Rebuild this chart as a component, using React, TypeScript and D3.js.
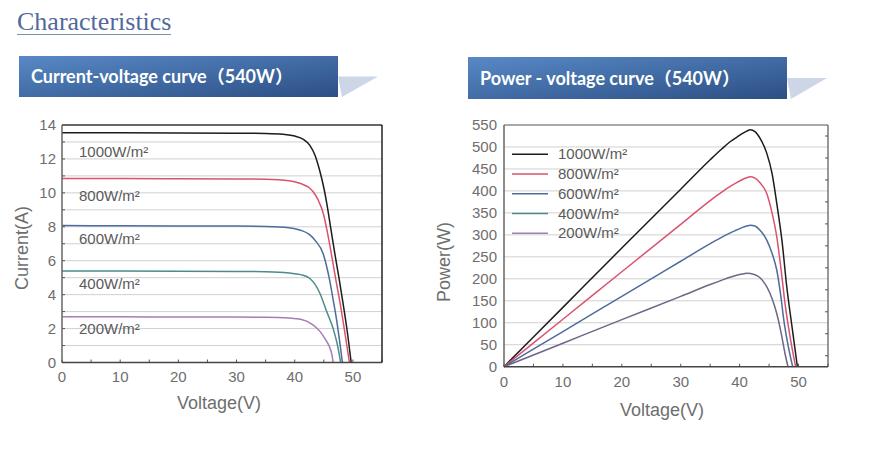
import React from "react";
import * as d3 from "d3";

// ---------- data ----------
const irradianceLabels = ["1000W/m²", "800W/m²", "600W/m²", "400W/m²", "200W/m²"];
const seriesColors = ["#1c1c1c", "#d9536e", "#4d6c9c", "#4d8a8c", "#a77db3"];
const powerColors = ["#1c1c1c", "#d9536e", "#4d6c9c", "#6e6688"];

const ivV1000 = [0, 10, 20, 30, 35, 38, 40, 41.5, 42.6, 43.5, 44.3, 45, 45.5, 46.2, 46.9, 47.6, 48.3, 49, 49.7];
const ivI1000 = [13.55, 13.54, 13.53, 13.52, 13.5, 13.45, 13.35, 13.15, 12.8, 12.2, 11.3, 10.3, 9.4, 7.9, 6.4, 5.0, 3.5, 1.9, 0];
const ivV800 = [0, 10, 20, 30, 35, 39, 41, 42.5, 43.2, 44, 44.9, 45.6, 46.3, 47, 47.8, 48.6, 49.4];
const ivI800 = [10.85, 10.84, 10.83, 10.82, 10.8, 10.72, 10.55, 10.3, 10.05, 9.6, 8.8, 7.7, 6.4, 5.0, 3.5, 1.8, 0];
const ivV600 = [0, 10, 20, 30, 35, 39, 41, 42.5, 43.5, 44.9, 46, 46.6, 47.2, 47.7, 48.2];
const ivI600 = [8.07, 8.06, 8.05, 8.04, 8.02, 7.95, 7.8, 7.55, 7.2, 6.4, 4.85, 3.7, 2.5, 1.3, 0];
const ivV400 = [0, 10, 20, 30, 35, 39, 41, 42.6, 44.3, 45.5, 46.6, 47.3, 47.9];
const ivI400 = [5.4, 5.39, 5.38, 5.37, 5.35, 5.28, 5.18, 4.95, 4.1, 3.0, 2.0, 1.1, 0];
const ivV200 = [0, 10, 20, 30, 35, 39, 41, 43, 44.3, 45.3, 46, 46.4, 46.6];
const ivI200 = [2.69, 2.69, 2.68, 2.68, 2.67, 2.62, 2.55, 2.25, 1.85, 1.35, 0.9, 0.45, 0];

const pvV1000 = [0, 10, 20, 30, 35, 37, 38.5, 39.5, 40.5, 41.2, 41.8, 42.6, 43.5, 44.6, 45.5, 46.3, 47.2, 48, 48.9, 49.8];
const pvP1000 = [0, 135, 270, 404, 471, 496, 513, 522, 531, 536, 539, 535, 519, 486, 440, 372, 285, 182, 90, 0];
const pvV800 = [0, 10, 20, 30, 35, 36, 38, 39.5, 40.5, 41.2, 41.8, 42.6, 43.5, 44.6, 45.5, 46.3, 47.0, 47.7, 48.6, 49.5];
const pvP800 = [0, 108, 216, 324, 378, 388, 407, 419, 426, 430, 432, 429, 418, 394, 350, 296, 225, 144, 65, 0];
const pvV600 = [0, 10, 20, 30, 35, 37, 38.5, 39.5, 40.5, 41.2, 41.8, 42.6, 43.5, 44.6, 45.5, 46.3, 47, 47.5, 48.2, 49];
const pvP600 = [0, 80, 160, 240, 280, 295, 305, 311, 317, 320, 322, 320, 310, 288, 258, 220, 160, 106, 50, 0];
const pvV400 = [0, 10, 20, 30, 35, 37, 38.5, 39.5, 40.5, 41.2, 42.5, 43.5, 44.6, 45.5, 46.3, 47, 47.7, 48.2];
const pvP400 = [0, 53.5, 107, 160, 187, 197, 204, 208, 211, 212.5, 210, 202, 182, 155, 121, 80, 30, 0];

const ivSeries = [
  [ivV1000, ivI1000],
  [ivV800, ivI800],
  [ivV600, ivI600],
  [ivV400, ivI400],
  [ivV200, ivI200],
];
const pvSeries = [
  [pvV1000, pvP1000],
  [pvV800, pvP800],
  [pvV600, pvP600],
  [pvV400, pvP400],
];

const xTicks = [0, 10, 20, 30, 40, 50];
const ivYTicks = [0, 2, 4, 6, 8, 10, 12, 14];
const pvYTicks = [0, 50, 100, 150, 200, 250, 300, 350, 400, 450, 500, 550];
const ivLabelY = [12.45, 9.85, 7.32, 4.68, 2.03];

const tickFont = "'Liberation Sans', Arial, sans-serif";
const tickColor = "#6e6e6e";
const bannerFont = "Lato, 'Noto Sans CJK SC', sans-serif";

function toPts(v: number[], y: number[]) {
  return v.map((d, i) => [d, y[i]] as [number, number]);
}

function Banner({ x, y, w, h, text, id }: any) {
  return (
    <g>
      <polygon
        points={`${x + w},${y + h * 0.5} ${x + w + 40},${y + h * 0.5} ${x + w + 4},${y + h}`}
        fill="#cdd6e6"
      />
      <rect x={x} y={y} width={w} height={h} fill={`url(#${id})`} />
      <text x={x + 12} y={y + h / 2 + 6.5} fill="#ffffff" fontFamily={bannerFont} fontWeight={700} fontSize={18}>
        {text}
      </text>
    </g>
  );
}

export default function App() {
  // IV chart
  const ix = d3.scaleLinear().domain([0, 55]).range([62, 382]);
  const iy = d3.scaleLinear().domain([0, 14]).range([362.5, 125]);
  // PV chart
  const px = d3.scaleLinear().domain([0, 55]).range([504, 828]);
  const py = d3.scaleLinear().domain([0, 550]).range([366.7, 125]);

  const ivLine = d3
    .line<[number, number]>()
    .x((d) => ix(d[0]))
    .y((d) => iy(d[1]))
    .curve(d3.curveMonotoneX);
  const pvLine = d3
    .line<[number, number]>()
    .x((d) => px(d[0]))
    .y((d) => py(d[1]))
    .curve(d3.curveMonotoneX);

  const ivGrid = d3.range(1, 14, 1);
  const pvGrid = pvYTicks.filter((t) => t > 0 && t < 550);
  const xMinor = d3.range(0, 56, 5);

  return (
    <svg
      width={869}
      height={451}
      style={{ position: "absolute", left: 0, top: 0, background: "#fff" }}
    >
      <defs>
        <linearGradient id="bg1" x1="0" y1="0" x2="1" y2="1">
          <stop offset="0" stopColor="#5889c6" />
          <stop offset="1" stopColor="#2c4f84" />
        </linearGradient>
        <linearGradient id="bg2" x1="0" y1="0" x2="1" y2="1">
          <stop offset="0" stopColor="#5889c6" />
          <stop offset="1" stopColor="#2c4f84" />
        </linearGradient>
      </defs>
      <rect width={869} height={451} fill="#ffffff" />

      {/* title */}
      <text x={17} y={30} fontFamily="'Liberation Serif', 'Times New Roman', serif" fontSize={26} fill="#51699b">
        Characteristics
      </text>
      <line x1={17} x2={171} y1={34.5} y2={34.5} stroke="#7f8fb0" strokeWidth={1.2} />

      <Banner x={19} y={56} w={319} h={41} text="Current-voltage curve（540W）" id="bg1" />
      <Banner x={468} y={57} w={319} h={42} text="Power - voltage curve（540W）" id="bg2" />

      {/* ---------- IV chart ---------- */}
      <g>
        {ivGrid.map((t) => (
          <line key={t} x1={ix(0)} x2={ix(55)} y1={iy(t)} y2={iy(t)} stroke="#d0d0d0" strokeWidth={1} />
        ))}
        {ivGrid.map((t) => (
          <line key={"mt" + t} x1={ix(0)} x2={ix(0) + 3} y1={iy(t)} y2={iy(t)} stroke="#555" strokeWidth={1} />
        ))}
        {xMinor.map((t) => (
          <line key={"xm" + t} x1={ix(t)} x2={ix(t)} y1={iy(0)} y2={iy(0) - 3} stroke="#555" strokeWidth={1} />
        ))}
        {ivSeries.map((s, i) => (
          <path key={i} d={ivLine(toPts(s[0], s[1])) || ""} fill="none" stroke={seriesColors[i]} strokeWidth={1.5} />
        ))}
        <line x1={ix(0)} x2={ix(55)} y1={iy(14)} y2={iy(14)} stroke="#333" strokeWidth={1.5} />
        <line x1={ix(55)} x2={ix(55)} y1={iy(14)} y2={iy(0)} stroke="#222" strokeWidth={1.5} />
        <line x1={ix(0)} x2={ix(0)} y1={iy(14)} y2={iy(0)} stroke="#666" strokeWidth={1.5} />
        <line x1={ix(0)} x2={ix(55)} y1={iy(0)} y2={iy(0)} stroke="#444" strokeWidth={1.5} />
        {ivYTicks.map((t) => (
          <text key={t} x={56} y={iy(t) + 5} textAnchor="end" fontFamily={tickFont} fontSize={15} fill={tickColor}>
            {t}
          </text>
        ))}
        {xTicks.map((t) => (
          <text key={t} x={ix(t)} y={382} textAnchor="middle" fontFamily={tickFont} fontSize={15} fill={tickColor}>
            {t}
          </text>
        ))}
        <text x={219} y={409} textAnchor="middle" fontFamily={tickFont} fontSize={18} fill={tickColor}>
          Voltage(V)
        </text>
        <text
          transform={`translate(28,${248}) rotate(-90)`}
          textAnchor="middle"
          fontFamily={tickFont}
          fontSize={18}
          fill={tickColor}
        >
          Current(A)
        </text>
        {irradianceLabels.map((l, i) => (
          <text key={l} x={79} y={iy(ivLabelY[i]) + 6} fontFamily={tickFont} fontSize={15} fill="#5a5a5a">
            {l}
          </text>
        ))}
      </g>

      {/* ---------- PV chart ---------- */}
      <g>
        {pvGrid.map((t) => (
          <line key={t} x1={px(0)} x2={px(55)} y1={py(t)} y2={py(t)} stroke="#d0d0d0" strokeWidth={1} />
        ))}
        {d3.range(25, 550, 50).map((t) => (
          <line key={"r" + t} x1={px(55)} x2={px(55) - 3} y1={py(t)} y2={py(t)} stroke="#555" strokeWidth={1} />
        ))}
        {xMinor.map((t) => (
          <line key={"xm" + t} x1={px(t)} x2={px(t)} y1={py(0)} y2={py(0) - 3} stroke="#555" strokeWidth={1} />
        ))}
        {pvSeries.map((s, i) => (
          <path key={i} d={pvLine(toPts(s[0], s[1])) || ""} fill="none" stroke={powerColors[i]} strokeWidth={1.5} />
        ))}
        <line x1={px(0)} x2={px(55)} y1={py(550)} y2={py(550)} stroke="#555" strokeWidth={1.2} />
        <line x1={px(55)} x2={px(55)} y1={py(550)} y2={py(0)} stroke="#555" strokeWidth={1.2} />
        <line x1={px(0)} x2={px(0)} y1={py(550)} y2={py(0)} stroke="#666" strokeWidth={1.5} />
        <line x1={px(0)} x2={px(55)} y1={py(0)} y2={py(0)} stroke="#444" strokeWidth={1.5} />
        {pvYTicks.map((t) => (
          <text key={t} x={497} y={py(t) + 5} textAnchor="end" fontFamily={tickFont} fontSize={15} fill={tickColor}>
            {t}
          </text>
        ))}
        {xTicks.map((t) => (
          <text key={t} x={px(t)} y={387} textAnchor="middle" fontFamily={tickFont} fontSize={15} fill={tickColor}>
            {t}
          </text>
        ))}
        <text x={662} y={416} textAnchor="middle" fontFamily={tickFont} fontSize={18} fill={tickColor}>
          Voltage(V)
        </text>
        <text
          transform={`translate(450,${262}) rotate(-90)`}
          textAnchor="middle"
          fontFamily={tickFont}
          fontSize={18}
          fill={tickColor}
        >
          Power(W)
        </text>
        {irradianceLabels.map((l, i) => (
          <g key={l}>
            <line x1={512} x2={548} y1={154.3 + i * 19.75} y2={154.3 + i * 19.75} stroke={seriesColors[i]} strokeWidth={1.5} />
            <text x={558} y={154.3 + i * 19.75 + 5} fontFamily={tickFont} fontSize={15} fill="#5a5a5a">
              {l}
            </text>
          </g>
        ))}
      </g>
    </svg>
  );
}
